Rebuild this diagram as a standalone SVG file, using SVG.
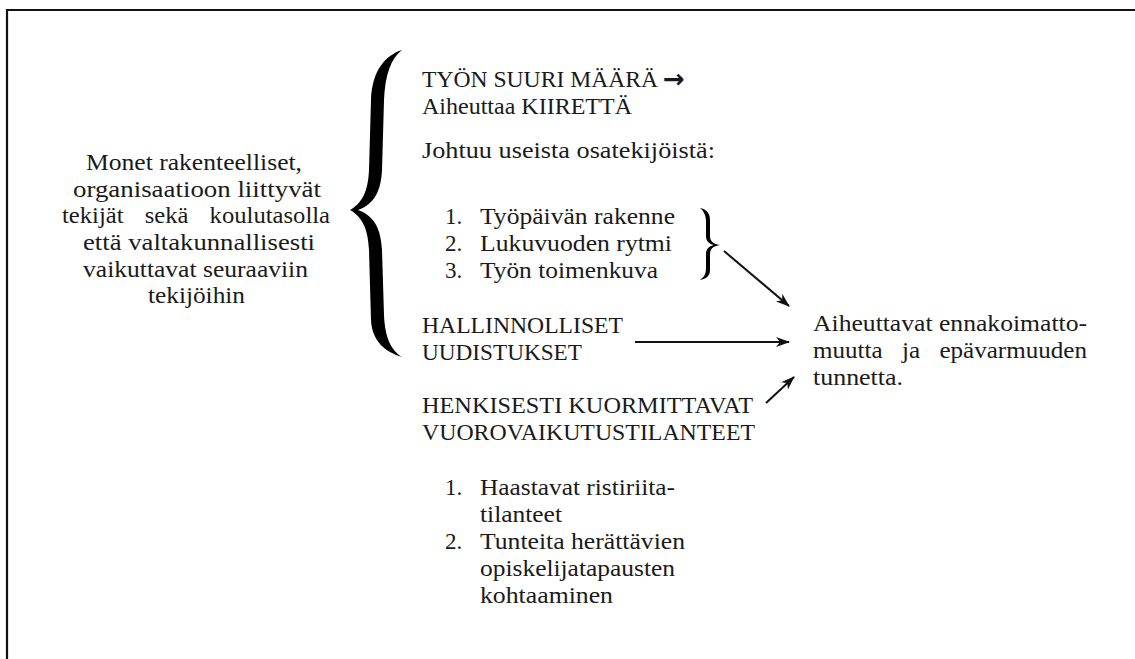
<svg xmlns="http://www.w3.org/2000/svg" width="1135" height="659" viewBox="0 0 1135 659">
<style>
text{font-family:"Liberation Serif","Times New Roman",serif;font-size:23px;fill:#1a1a1a}
.conn{stroke:#111;stroke-width:2;fill:none}
.brace{fill:#000}
</style>
<defs>
<marker id="ah" viewBox="0 0 14 10" refX="13" refY="5" markerWidth="14" markerHeight="10" markerUnits="userSpaceOnUse" orient="auto">
<path d="M0 0 L14 5 L0 10 L4 5 Z" fill="#111"/>
</marker>
</defs>
<rect width="1135" height="659" fill="#fff"/>
<path d="M7 660 L7 10 L1136 10" fill="none" stroke="#111" stroke-width="2.2"/>

<g id="left-text">
<text x="86" y="170" textLength="216" lengthAdjust="spacingAndGlyphs">Monet rakenteelliset,</text>
<text x="73" y="197" textLength="248" lengthAdjust="spacingAndGlyphs">organisaatioon liittyvät</text>
<text x="62" y="223" textLength="268" lengthAdjust="spacingAndGlyphs" word-spacing="14">tekijät sekä koulutasolla</text>
<text x="83" y="250" textLength="232" lengthAdjust="spacingAndGlyphs">että valtakunnallisesti</text>
<text x="83" y="277" textLength="225" lengthAdjust="spacingAndGlyphs">vaikuttavat seuraaviin</text>
<text x="148" y="303" textLength="97" lengthAdjust="spacingAndGlyphs">tekijöihin</text>
</g>

<g id="big-brace">
<path class="brace" d="M402 50 C386 55 372 70 371 100 L369 170 C368 192 362 203 350 210 C362 217 368 228 369 250 L371 320 C372 342 386 352 402 357 C391 350 385 338 384 315 L382 250 C381 230 375 216 358 210 C375 204 381 190 382 170 L384 100 C385 75 391 58 402 50 Z"/>
</g>

<g id="tyon-suuri-maara">
<text x="422" y="87"><tspan textLength="236" lengthAdjust="spacingAndGlyphs">TYÖN SUURI MÄÄRÄ</tspan><tspan x="663" y="88" style="font-family:'DejaVu Sans',sans-serif;font-size:26px;font-weight:bold">→</tspan></text>
<text x="422" y="114" textLength="210" lengthAdjust="spacingAndGlyphs">Aiheuttaa KIIRETTÄ</text>
</g>

<g id="johtuu">
<text x="422" y="158" textLength="293" lengthAdjust="spacingAndGlyphs">Johtuu useista osatekijöistä:</text>
</g>

<g id="osatekijat">
<text x="445" y="224">1.</text>
<text x="480" y="224" textLength="195" lengthAdjust="spacingAndGlyphs">Työpäivän rakenne</text>
<text x="445" y="251">2.</text>
<text x="480" y="251" textLength="192" lengthAdjust="spacingAndGlyphs">Lukuvuoden rytmi</text>
<text x="445" y="278">3.</text>
<text x="480" y="278" textLength="178" lengthAdjust="spacingAndGlyphs">Työn toimenkuva</text>
</g>

<g id="small-brace">
<path class="brace" d="M700 208 C706 209 710 213 710 220 L710 236 C710 241 713 244 720 245 C713 246 710 249 710 254 L710 270 C710 276 706 279 700 280 C704 277 706 274 706 268 L706 254 C706 249 709 246 714 245 C709 244 706 241 706 236 L706 222 C706 216 704 211 700 208 Z"/>
</g>

<g id="hallinnolliset">
<text x="422" y="333" textLength="201" lengthAdjust="spacingAndGlyphs">HALLINNOLLISET</text>
<text x="422" y="360" textLength="160" lengthAdjust="spacingAndGlyphs">UUDISTUKSET</text>
</g>

<g id="henkisesti">
<text x="422" y="413" textLength="331" lengthAdjust="spacingAndGlyphs">HENKISESTI KUORMITTAVAT</text>
<text x="422" y="440" textLength="333" lengthAdjust="spacingAndGlyphs">VUOROVAIKUTUSTILANTEET</text>
</g>

<g id="vuorovaikutus-lista">
<text x="445" y="495">1.</text>
<text x="480" y="495" textLength="195" lengthAdjust="spacingAndGlyphs">Haastavat ristiriita-</text>
<text x="480" y="522" textLength="82" lengthAdjust="spacingAndGlyphs">tilanteet</text>
<text x="445" y="549">2.</text>
<text x="480" y="549" textLength="205" lengthAdjust="spacingAndGlyphs">Tunteita herättävien</text>
<text x="480" y="576" textLength="195" lengthAdjust="spacingAndGlyphs">opiskelijatapausten</text>
<text x="480" y="603" textLength="133" lengthAdjust="spacingAndGlyphs">kohtaaminen</text>
</g>

<g id="seuraus">
<text x="813" y="331" textLength="274" lengthAdjust="spacingAndGlyphs">Aiheuttavat ennakoimatto-</text>
<text x="813" y="358" textLength="274" lengthAdjust="spacingAndGlyphs" word-spacing="12">muutta ja epävarmuuden</text>
<text x="813" y="385" textLength="90" lengthAdjust="spacingAndGlyphs">tunnetta.</text>
</g>

<g id="connectors">
<path class="conn" d="M724 251 L789 306" marker-end="url(#ah)"/>
<path class="conn" d="M635 342 L789 342" marker-end="url(#ah)"/>
<path class="conn" d="M766 403 L794 377" marker-end="url(#ah)"/>
</g>
</svg>
